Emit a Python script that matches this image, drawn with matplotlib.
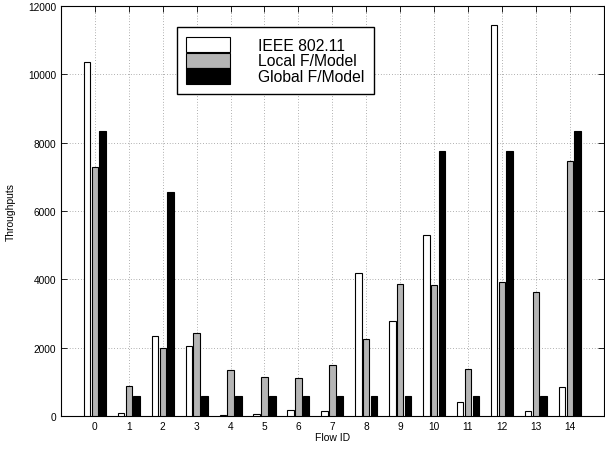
import matplotlib
matplotlib.use("Agg")
import matplotlib.pyplot as plt
from matplotlib.patches import Rectangle
from matplotlib.legend_handler import HandlerPatch
import numpy as np

plt.rcParams['font.family'] = ['Liberation Sans', 'DejaVu Sans']

flows = list(range(15))
ieee = [10350, 80, 2330, 2060, 30, 50, 180, 160, 4200, 2770, 5300, 400, 11430, 160, 850]
local_fm = [7300, 870, 2000, 2430, 1340, 1140, 1120, 1480, 2250, 3870, 3830, 1370, 3930, 3630, 7470]
global_fm = [8350, 600, 6550, 600, 600, 600, 600, 600, 600, 600, 7750, 600, 7750, 600, 8350]
series_labels = ['IEEE 802.11', 'Local F/Model', 'Global F/Model']
yticks = [0, 2000, 4000, 6000, 8000, 10000, 12000]

fig = plt.figure(figsize=(6.05, 4.52), dpi=100)
ax = fig.add_axes([0.1008, 0.0774, 0.897, 0.9071])

x = np.array(flows)
w = 0.19
off = 0.23
colors = ['white', '#b5b5b5', 'black']
for i, (vals, c, lab) in enumerate(zip([ieee, local_fm, global_fm], colors, series_labels)):
    ax.bar(x + (i - 1) * off, vals, width=w, color=c, edgecolor='black', linewidth=0.8, label=lab, zorder=3)

ax.set_xlim(-1, 15)
ax.set_ylim(0, 12000)
ax.set_xticks(flows)
ax.set_yticks(yticks)
ax.tick_params(direction='in', top=True, right=True, labelsize=7.3, length=4, width=0.6)
ax.grid(True, linestyle=(0, (1, 3)), color='black', linewidth=0.5, alpha=0.6, zorder=0)
ax.set_axisbelow(True)
for s in ax.spines.values():
    s.set_linewidth(0.8)
ax.set_xlabel('Flow ID', fontsize=7.5, labelpad=1)
ax.set_ylabel('Throughputs', fontsize=7.5, labelpad=9)


def tall_patch(legend, orig_handle, xdescent, ydescent, width, height, fontsize):
    e = 0.12 * fontsize
    return Rectangle((-xdescent, -ydescent - e), width, height + 2 * e)


leg = ax.legend(loc='upper left', bbox_to_anchor=(0.213, 0.948), fontsize=11.3,
                handlelength=2.8, handleheight=1.1, labelspacing=0.0,
                fancybox=False, framealpha=1, edgecolor='black', borderpad=0.6,
                handletextpad=1.8, borderaxespad=0,
                handler_map={Rectangle: HandlerPatch(patch_func=tall_patch)})
leg.get_frame().set_linewidth(1.0)

fig.savefig('out.png', dpi=100)
